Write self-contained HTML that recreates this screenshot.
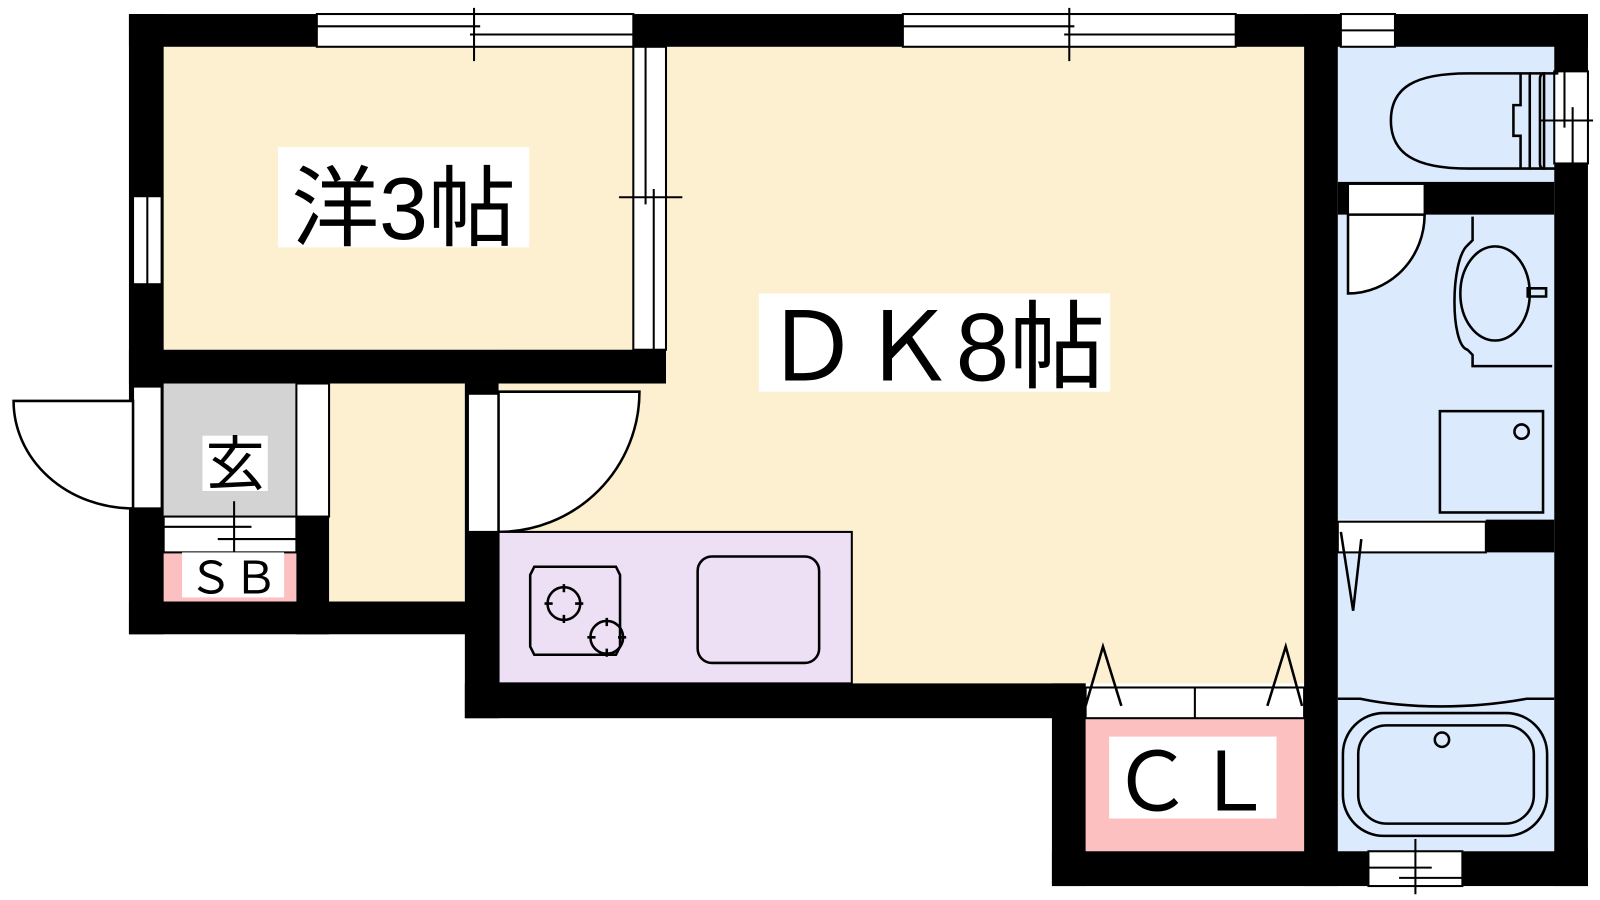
<!DOCTYPE html>
<html><head><meta charset="utf-8"><style>
html,body{margin:0;padding:0;background:#fff;}
svg{display:block}
text{font-family:"Liberation Sans","Noto Sans CJK JP",sans-serif;fill:#000}
</style></head><body>
<svg width="1600" height="900" viewBox="0 0 1600 900" xmlns="http://www.w3.org/2000/svg">
<rect width="1600" height="900" fill="#fff"/>
<g transform="matrix(1.021,0,0,1.0235,0.3,-0.3)">
<rect x="160" y="46" width="460" height="296" fill="#fdf0d0"/>
<rect x="488" y="46" width="789" height="622" fill="#fdf0d0"/>
<rect x="322" y="375" width="133" height="213" fill="#fdf0d0"/>
<rect x="160" y="375" width="130" height="130" fill="#d3d3d3"/>
<rect x="160" y="540" width="130" height="48" fill="#fcc0c0"/>
<rect x="1063" y="702" width="214" height="130" fill="#fcc0c0"/>
<rect x="1310" y="46" width="212" height="132" fill="#dbeafd"/>
<rect x="1310" y="210" width="212" height="298" fill="#dbeafd"/>
<rect x="1310" y="540" width="212" height="292" fill="#dbeafd"/>
<g fill="#000">
<rect x="126" y="14" width="1429" height="32"/>
<rect x="126" y="14" width="34" height="606"/>
<rect x="126" y="342" width="526" height="33"/>
<rect x="620" y="46" width="32" height="329"/>
<rect x="126" y="588" width="362" height="32"/>
<rect x="290" y="505" width="32" height="115"/>
<rect x="455" y="375" width="33" height="327"/>
<rect x="455" y="668" width="608" height="34"/>
<rect x="1030" y="668" width="33" height="198"/>
<rect x="1030" y="832" width="525" height="34"/>
<rect x="1277" y="14" width="33" height="852"/>
<rect x="1522" y="14" width="33" height="852"/>
<rect x="1310" y="178" width="212" height="32"/>
<rect x="1455" y="508" width="67" height="32"/>
</g>
<g fill="#fff" stroke="#000" stroke-width="2">
<rect x="310" y="14" width="310" height="32"/>
<line x1="310" y1="26" x2="470" y2="26"/><line x1="460" y1="34" x2="620" y2="34"/>
<line x1="464" y1="8" x2="464" y2="60"/>
<rect x="884" y="14" width="326" height="32"/>
<line x1="884" y1="26" x2="1052" y2="26"/><line x1="1042" y1="34" x2="1210" y2="34"/>
<line x1="1047" y1="8" x2="1047" y2="60"/>
<rect x="1313" y="14" width="53" height="32"/><line x1="1313" y1="30" x2="1366" y2="30"/>
<rect x="130" y="192" width="28" height="86"/><line x1="144" y1="192" x2="144" y2="278"/>
<rect x="620" y="46" width="32" height="296"/>
<line x1="632" y1="46" x2="632" y2="200"/><line x1="640" y1="185" x2="640" y2="342"/>
<line x1="606" y1="193" x2="668" y2="193"/>
<rect x="130" y="378" width="28" height="119"/>
<rect x="290" y="375" width="32" height="130"/>
<rect x="458" y="385" width="30" height="135"/>
<rect x="160" y="505" width="130" height="35"/>
<line x1="160" y1="515" x2="246" y2="515"/><line x1="213" y1="527" x2="290" y2="527"/>
<line x1="229" y1="490" x2="229" y2="545"/>
<rect x="1522" y="70" width="33" height="90"/>
<line x1="1532" y1="70" x2="1532" y2="125"/><line x1="1540" y1="105" x2="1540" y2="160"/>
<line x1="1508" y1="118" x2="1560" y2="118"/>
<rect x="1320" y="180" width="75" height="30"/>
<rect x="1310" y="510" width="145" height="30"/>
<rect x="1340" y="832" width="92" height="34"/>
<line x1="1340" y1="848" x2="1402" y2="848"/><line x1="1370" y1="858" x2="1432" y2="858"/>
<line x1="1386" y1="820" x2="1386" y2="874"/>
<rect x="1063" y="672" width="214" height="30"/><line x1="1170" y1="672" x2="1170" y2="702"/>
</g>
<g fill="#fff" stroke="#000" stroke-width="2.5">
<path d="M130 392 L13 392 A117 105 0 0 0 130 497 Z"/>
<path d="M488 520 L488 383 L626 383 A138 137 0 0 1 488 520 Z"/>
<path d="M1320 210 L1320 287 A75 77 0 0 0 1395 210 Z"/>
</g>
<g fill="none" stroke="#000" stroke-width="2.5">
<polyline points="1313,520 1325,597 1333,527"/>
<polyline points="1063,690 1080,632 1098,690"/>
<polyline points="1241,690 1259,632 1275,690"/>
</g>
<rect x="488" y="520" width="346" height="148" fill="#ede0f5" stroke="#000" stroke-width="2"/>
<g fill="none" stroke="#000" stroke-width="2.5">
<path d="M523 554 L603 554 L607 562 L607 632 L603 640 L523 640 L519 632 L519 562 Z"/>
<rect x="683" y="544" width="119" height="104" rx="14"/>
<circle cx="552" cy="590" r="16"/><circle cx="594" cy="623" r="16"/>
<path d="M552 571v8M552 601v8M533 590h8M563 590h8M594 604v8M594 634v8M575 623h8M605 623h8"/>
</g>
<g fill="none" stroke="#000" stroke-width="2.5">
<path d="M1438 72 L1498 72 L1498 165 L1438 165 C1385 165 1362 150 1362 118 C1362 86 1385 72 1438 72 Z"/>
<path d="M1498 72 L1512 72 L1512 165 L1498 165"/>
<path d="M1489 72 V103 H1482 V133 H1489 V165"/>
<path d="M1526 72 L1512 72 Q1508 72 1508 78 V160 Q1508 165 1512 165 L1526 165"/>
<path d="M1442 212 V235 L1437 240 C1420 255 1420 338 1437 342 L1442 347 V358 H1520"/>
<ellipse cx="1464" cy="287" rx="34" ry="46"/>
<path d="M1496 282 H1514 V290 H1496 Z"/>
<rect x="1410" y="402" width="101" height="99"/>
<circle cx="1490" cy="422" r="7"/>
<path d="M1310 683 H1332 C1380 693 1440 693 1495 683 H1522"/>
<rect x="1315" y="697" width="200" height="120" rx="40"/>
<rect x="1330" y="709" width="172" height="96" rx="28"/>
<circle cx="1412" cy="723" r="7"/>
</g>
<rect x="272" y="144" width="246" height="98" fill="#fff"/>
<text x="395" y="234" font-size="86" text-anchor="middle">洋3帖</text>
<rect x="743" y="287" width="344" height="96" fill="#fff"/>
<text x="915" y="372" font-size="94" text-anchor="middle">ＤＫ8帖</text>
<rect x="198" y="426" width="64" height="54" fill="#fff"/>
<text x="230" y="474" font-size="58" text-anchor="middle">玄</text>
<rect x="178" y="540" width="100" height="44" fill="#fff"/>
<text x="228" y="580" font-size="44" text-anchor="middle">ＳＢ</text>
<rect x="1086" y="720" width="164" height="80" fill="#fff"/>
<text x="1168" y="792" font-size="80" text-anchor="middle">ＣＬ</text>
</g>
</svg>
</body></html>
